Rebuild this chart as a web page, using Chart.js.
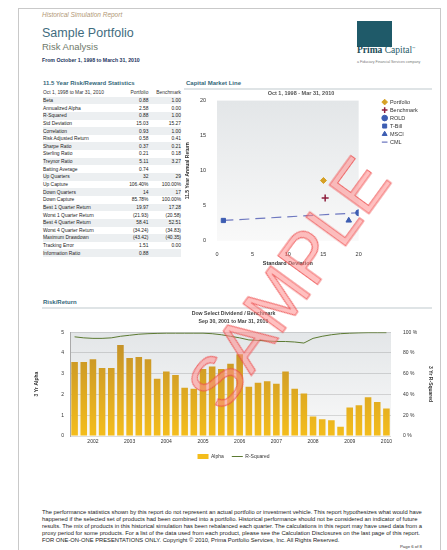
<!DOCTYPE html>
<html>
<head>
<meta charset="utf-8">
<script src="https://cdn.jsdelivr.net/npm/chart.js@4.4.1/dist/chart.umd.min.js"></script>
<style>
  body { margin:0; width:447px; height:550px; background:#fff; position:relative; overflow:hidden;
         font-family:"Liberation Sans", Arial, sans-serif; }
  .abs { position:absolute; }
  .page { left:18px; top:8px; width:423px; height:560px; border:1px solid #c9c9c9; border-bottom:none; box-sizing:border-box; }
  .rpt { left:42px; top:11px; font-size:6.5px; font-style:italic; color:#b39876; }
  .ttl { left:42px; top:26px; font-size:12.5px; color:#3f6c7e; }
  .sub { left:42px; top:41px; font-size:9.5px; color:#707a6c; }
  .rng { left:42px; top:57px; font-size:5.2px; font-weight:bold; color:#23355e; }
  .logo-box { left:357px; top:21px; width:35px; height:26px; background:#1f5a69; }
  .logo { left:357px; top:45px; font-family:"Liberation Serif", serif; font-size:9.5px; color:#1f5a69; white-space:nowrap; }
  .logo b { color:#1d4b58; }
  .tag { left:357px; top:60px; font-size:3.6px; color:#777; white-space:nowrap; }
  .sect { font-size:6px; font-weight:bold; color:#35687a; }
  .rule { height:2px; background:#dfe4e6; }
  table { border-collapse:collapse; font-size:4.9px; color:#222; }
  td { padding:0; height:7.65px; white-space:nowrap; }
  td.v { text-align:right; }
  tr.s td { background:#eceff1; }
  .foot { left:42px; top:509px; width:390px; font-size:5.8px; line-height:7px; color:#222; }
  .pg { left:400px; top:544px; font-size:4.3px; color:#333; }
  .wm { left:144px; top:243px; font-size:70px; color:rgba(255,140,140,0.55);
        -webkit-text-stroke:1px rgba(235,70,70,0.75); transform:rotate(-54deg); transform-origin:center;
        letter-spacing:1px; white-space:nowrap; }
</style>
</head>
<body>
<div class="abs page"></div>
<div class="abs rpt">Historical Simulation Report</div>
<div class="abs ttl">Sample Portfolio</div>
<div class="abs sub">Risk Analysis</div>
<div class="abs rng">From October 1, 1998 to March 31, 2010</div>
<div class="abs logo-box"></div>
<div class="abs logo"><b>Prima</b> Capital<sup style="font-size:3px">&trade;</sup></div>
<div class="abs tag">a Fiduciary Financial Services company</div>

<div class="abs sect" style="left:43px;top:80px;">11.5 Year Risk/Reward Statistics</div>
<table class="abs" id="stats" style="left:43px;top:89px;width:138px;"></table>

<div class="abs sect" style="left:186px;top:80px;">Capital Market Line</div>
<div class="abs rule" style="left:184px;top:88px;width:248px;"></div>
<div class="abs" style="left:183px;top:90px;width:236px;height:178px;"><canvas id="cml"></canvas></div>

<div class="abs sect" style="left:43px;top:299px;">Risk/Return</div>
<div class="abs rule" style="left:42px;top:307px;width:390px;"></div>
<div class="abs" style="left:30px;top:309px;width:407px;height:160px;"><canvas id="rr"></canvas></div>

<div class="abs foot">The performance statistics shown by this report do not represent an actual portfolio or investment vehicle. This report hypothesizes what would have happened if the selected set of products had been combined into a portfolio. Historical performance should not be considered an indicator of future results. The mix of products in this historical simulation has been rebalanced each quarter. The calculations in this report may have used data from a proxy period for some products. For a list of the data used from each product, please see the Calculation Disclosures on the last page of this report. FOR ONE-ON-ONE PRESENTATIONS ONLY. Copyright &copy; 2010, Prima Portfolio Services, Inc. All Rights Reserved.</div>
<div class="abs pg">Page 6 of 8</div>
<div class="abs wm">SAMPLE</div>

<script>
// statistics table
var statNames = ['Beta', 'Annualized Alpha', 'R-Squared', 'Std Deviation', 'Correlation', 'Risk Adjusted Return',
  'Sharpe Ratio', 'Sterling Ratio', 'Treynor Ratio', 'Batting Average', 'Up Quarters', 'Up Capture',
  'Down Quarters', 'Down Capture', 'Best 1 Quarter Return', 'Worst 1 Quarter Return', 'Best 4 Quarter Return',
  'Worst 4 Quarter Return', 'Maximum Drawdown', 'Tracking Error', 'Information Ratio'];
var statPortfolio = ['0.88', '2.58', '0.88', '15.03', '0.93', '0.58', '0.37', '0.21', '5.11', '0.74', '32', '106.40%',
  '14', '85.78%', '19.97', '(21.93)', '58.41', '(34.24)', '(43.42)', '1.51', '0.88'];
var statBenchmark = ['1.00', '0.00', '1.00', '15.27', '1.00', '0.41', '0.21', '0.18', '3.27', '', '29', '100.00%',
  '17', '100.00%', '17.28', '(20.58)', '52.51', '(34.83)', '(40.35)', '0.00', ''];

// capital market line
var cmlNames = ['Portfolio', 'Benchmark', 'ROLD', 'T-Bill', 'MSCI'];
var cmlStdDev = [15.03, 15.27, 20.0, 0.9, 18.6];
var cmlReturn = [8.6, 6.1, 4.0, 2.9, 2.9];
var cmlLineX = [0.9, 20.0];
var cmlLineY = [2.9, 4.0];

// rolling 3 year alpha / r-squared, quarter ends
var quarters = ['Sep 2001', 'Dec 2001', 'Mar 2002', 'Jun 2002', 'Sep 2002', 'Dec 2002', 'Mar 2003', 'Jun 2003',
  'Sep 2003', 'Dec 2003', 'Mar 2004', 'Jun 2004', 'Sep 2004', 'Dec 2004', 'Mar 2005', 'Jun 2005', 'Sep 2005',
  'Dec 2005', 'Mar 2006', 'Jun 2006', 'Sep 2006', 'Dec 2006', 'Mar 2007', 'Jun 2007', 'Sep 2007', 'Dec 2007',
  'Mar 2008', 'Jun 2008', 'Sep 2008', 'Dec 2008', 'Mar 2009', 'Jun 2009', 'Sep 2009', 'Dec 2009', 'Mar 2010'];
var alpha = [3.56, 3.56, 3.70, 3.27, 3.27, 4.38, 3.75, 3.80, 3.70, 2.76, 3.11, 2.94, 2.32, 2.27, 3.22, 3.35, 3.22,
  3.48, 3.94, 2.37, 2.56, 2.63, 2.51, 3.11, 2.27, 2.05, 0.94, 0.81, 0.76, 0.44, 1.37, 1.48, 1.86, 1.64, 1.32];
var rSquared = [95.5, 94.5, 94, 94, 94.5, 96, 97, 98, 98.5, 98.8, 99, 99, 99, 99, 99, 98.5, 97.5, 96, 94.5, 92.5,
  92, 91.5, 91, 91, 90.5, 89.5, 94, 96, 97.5, 98.5, 99, 99.3, 99.5, 99.5, 99.5];

var tbl = document.getElementById('stats');
var html = '<tr><td style="color:#333">Oct 1, 1998 to Mar 31, 2010</td><td class="v" style="color:#333">Portfolio</td><td class="v" style="color:#333">Benchmark</td></tr>';
for (var i = 0; i < statNames.length; i++) {
  html += '<tr' + (i % 2 == 0 ? ' class="s"' : '') + '><td>' + statNames[i] + '</td><td class="v">' +
    statPortfolio[i] + '</td><td class="v">' + statBenchmark[i] + '</td></tr>';
}
tbl.innerHTML = html;

Chart.defaults.font.family = '"Liberation Sans", Arial, sans-serif';
Chart.defaults.color = '#333';

// shaded plot background
var plotBg = {
  id: 'plotBg',
  beforeDraw: function(chart) {
    var a = chart.chartArea, c = chart.ctx;
    var g = c.createLinearGradient(0, a.top, 0, a.bottom);
    g.addColorStop(0, '#e3e6e8');
    g.addColorStop(1, '#f9f9f9');
    c.save();
    c.fillStyle = g;
    c.fillRect(a.left, a.top, a.right - a.left, a.bottom - a.top);
    c.restore();
  }
};

var markerStyle = [
  { pointStyle: 'rectRot', color: '#d6a126', radius: 3 },
  { pointStyle: 'cross', color: '#8e1f3e', radius: 3.5 },
  { pointStyle: 'circle', color: '#3d5db2', radius: 3 },
  { pointStyle: 'rect', color: '#3d5db2', radius: 3 },
  { pointStyle: 'triangle', color: '#3d5db2', radius: 3.2 }
];
var cmlSets = cmlNames.map(function(name, i) {
  var m = markerStyle[i];
  return {
    label: name,
    data: [{ x: cmlStdDev[i], y: cmlReturn[i] }],
    pointStyle: m.pointStyle,
    pointRadius: m.radius,
    backgroundColor: m.color,
    borderColor: m.color,
    borderWidth: m.pointStyle == 'cross' ? 1.5 : 1
  };
});
cmlSets.push({
  label: 'CML',
  type: 'line',
  data: cmlLineX.map(function(x, i) { return { x: x, y: cmlLineY[i] }; }),
  borderColor: '#6e78c0',
  backgroundColor: '#6e78c0',
  borderWidth: 1.2,
  borderDash: [10, 6],
  pointRadius: 0,
  pointStyle: 'line'
});

new Chart(document.getElementById('cml'), {
  type: 'scatter',
  data: { datasets: cmlSets },
  plugins: [plotBg],
  options: {
    responsive: true, maintainAspectRatio: false, animation: false, devicePixelRatio: 1,
    layout: { padding: { right: 0, bottom: 0 } },
    plugins: {
      title: { display: true, text: 'Oct 1, 1998 - Mar 31, 2010', font: { size: 5.5 }, color: '#555',
               padding: { top: 0, bottom: 4 } },
      legend: {
        position: 'right', align: 'start',
        title: { display: true, text: ' ', font: { size: 4 }, padding: 1 },
        labels: { usePointStyle: true, boxWidth: 5, boxHeight: 4, padding: 2.5,
                  font: { size: 5.5 }, color: '#333' }
      },
      tooltip: { enabled: false }
    },
    scales: {
      x: {
        min: 0, max: 20,
        ticks: { stepSize: 5, font: { size: 5.5 }, padding: 2 },
        grid: { display: false },
        border: { display: false },
        title: { display: true, text: 'Standard Deviation', font: { size: 5.5, weight: 'bold' }, padding: 1 }
      },
      y: {
        min: 0, max: 20,
        ticks: { stepSize: 5, font: { size: 5.5 }, padding: 3 },
        grid: { display: false },
        border: { display: false },
        title: { display: true, text: '11.5 Year Annual Return', font: { size: 5, weight: 'bold' }, padding: 2 },
        afterFit: function(s) { s.width = 34; }
      },
      // empty spacer between plot and legend
      gap: {
        type: 'linear', position: 'right',
        ticks: { display: false }, grid: { display: false }, border: { display: false },
        afterFit: function(s) { s.width = 21; }
      }
    }
  }
});

function goldFill(ctx) {
  var area = ctx.chart.chartArea;
  if (!area) return '#e0aa22';
  var g = ctx.chart.ctx.createLinearGradient(0, area.top, 0, area.bottom);
  g.addColorStop(0, '#bf8d2a');
  g.addColorStop(1, '#f4bd1c');
  return g;
}

new Chart(document.getElementById('rr'), {
  data: {
    labels: quarters,
    datasets: [
      {
        type: 'line', label: 'R-Squared', data: rSquared, yAxisID: 'y1',
        borderColor: '#5c7a32', backgroundColor: '#5c7a32', borderWidth: 1, pointRadius: 0,
        pointStyle: 'line', tension: 0
      },
      {
        type: 'bar', label: 'Alpha', data: alpha, yAxisID: 'y',
        backgroundColor: goldFill, borderColor: '#4a4a4a', borderWidth: 0,
        barPercentage: 0.78, categoryPercentage: 0.92, pointStyle: 'rect'
      }
    ]
  },
  plugins: [plotBg],
  options: {
    responsive: true, maintainAspectRatio: false, animation: false, devicePixelRatio: 1,
    plugins: {
      title: { display: true, text: ['Dow Select Dividend / Benchmark', 'Sep 30, 2001 to Mar 31, 2010'],
               font: { size: 5.2, lineHeight: 1.6 }, color: '#444', padding: { top: 0, bottom: 6.5 } },
      legend: {
        position: 'bottom', reverse: true,
        labels: { usePointStyle: true, pointStyleWidth: 11, boxHeight: 5, padding: 8, font: { size: 5 }, color: '#333' }
      },
      tooltip: { enabled: false }
    },
    scales: {
      x: {
        grid: { display: false, drawTicks: false },
        border: { display: false },
        ticks: {
          autoSkip: false, maxRotation: 0, font: { size: 5 }, padding: 3,
          callback: function(v, i) { var q = quarters[i]; return q.indexOf('Mar') == 0 ? q.slice(4) : ''; }
        },
        afterFit: function(s) { s.height = 10; }
      },
      y: {
        position: 'left', min: 0, max: 5,
        ticks: { stepSize: 1, font: { size: 5 }, padding: 6 },
        grid: { color: 'rgba(0,0,0,0.13)', drawTicks: false },
        border: { color: '#aaa' },
        title: { display: true, text: '3 Yr Alpha', font: { size: 5, weight: 'bold' }, padding: 4 },
        afterFit: function(s) { s.width = 40; }
      },
      y1: {
        position: 'right', min: 0, max: 100,
        ticks: { stepSize: 20, font: { size: 5 }, padding: 4, callback: function(v) { return v + ' %'; } },
        grid: { display: false },
        border: { display: false },
        title: { display: true, text: '3 Yr R-Squared', font: { size: 5, weight: 'bold' }, padding: 4 },
        afterFit: function(s) { s.width = 46; }
      }
    }
  }
});
</script>
</body>
</html>
